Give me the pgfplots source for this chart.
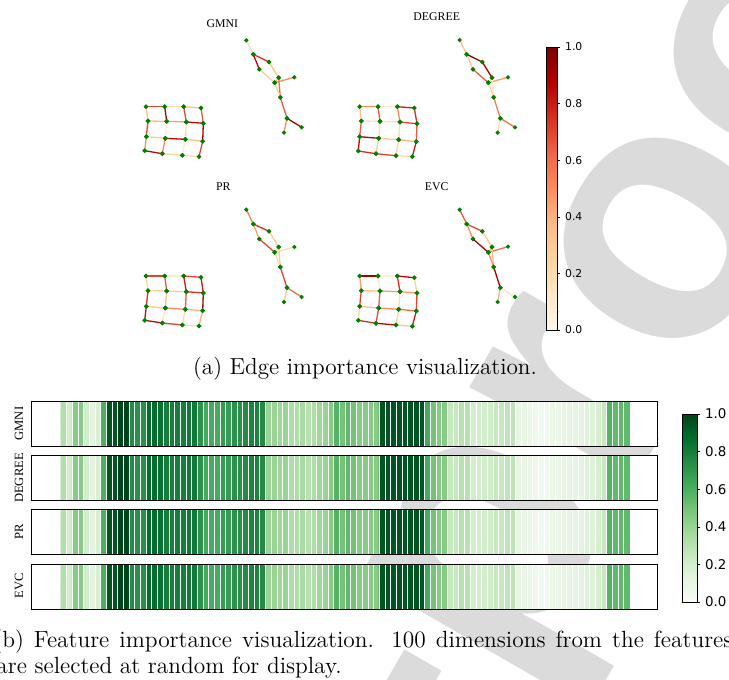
\documentclass[border=0pt]{standalone}
\usepackage{pgfplots}
\pgfplotsset{compat=1.18}
\usepackage{pgfplotstable}
\usepackage{fontspec}
\newfontfamily\dejavu{DejaVu Sans}
\newfontfamily\libserif{Liberation Serif}
\newfontfamily\wmfont{Liberation Sans}

\pgfplotsset{
  colormap={orrd}{rgb255=(255,247,236) rgb255=(254,232,200) rgb255=(253,212,158) rgb255=(253,187,132) rgb255=(252,141,89) rgb255=(239,101,72) rgb255=(215,48,31) rgb255=(179,0,0) rgb255=(127,0,0)},
  colormap={greens}{rgb255=(247,252,245) rgb255=(229,245,224) rgb255=(199,233,192) rgb255=(161,217,155) rgb255=(116,196,118) rgb255=(65,171,93) rgb255=(35,139,69) rgb255=(0,109,44) rgb255=(0,68,27)},
  heat/.style={scale only axis, width=312.5pt, height=22.5pt, anchor=north west,
    xmin=-5.6, xmax=104.35, ymin=-0.5, ymax=1.5,
    colormap name=greens, point meta min=0, point meta max=1,
    axis background/.style={fill=white},
    axis on top, xtick={0.5,1.5,...,98.5}, xticklabels={}, major tick length=0pt,
    ytick=\empty, xmajorgrids, major grid style={white, line width=0.45pt},
    axis line style={line width=0.5pt}},
}

% edges: x1 y1 x2 y2 importance (pixel coordinates of the figure)
\pgfplotstableread{
x1 y1 x2 y2 c
146.0 106.7 164.7 106.7 .70
164.7 106.7 183.7 106.7 .20
183.7 106.7 201.0 108.0 .35
148.0 121.0 166.7 121.3 .35
166.7 121.3 186.3 122.0 .45
186.3 122.0 203.3 123.3 .85
146.3 136.7 165.3 138.3 .30
165.3 138.3 185.3 139.3 .85
185.3 139.3 202.7 141.3 .35
144.7 150.7 162.3 153.7 .85
162.3 153.7 182.3 155.3 .25
182.3 155.3 199.0 156.7 .20
146.0 106.7 148.0 121.0 .35
148.0 121.0 146.3 136.7 .70
146.3 136.7 144.7 150.7 .50
164.7 106.7 166.7 121.3 .90
166.7 121.3 165.3 138.3 .10
165.3 138.3 162.3 153.7 .50
183.7 106.7 186.3 122.0 .70
186.3 122.0 185.3 139.3 .20
185.3 139.3 182.3 155.3 .10
201.0 108.0 203.3 123.3 .65
203.3 123.3 202.7 141.3 .90
202.7 141.3 199.0 156.7 .70
246.3 40.3 253.3 54.3 .20
253.3 54.3 269.0 62.0 .75
253.3 54.3 259.3 69.3 .85
269.0 62.0 278.7 77.7 .35
259.3 69.3 274.7 82.7 .30
278.7 77.7 274.7 82.7 .30
274.7 82.7 294.3 77.3 .50
278.7 77.7 280.3 97.3 .60
274.7 82.7 280.3 97.3 .25
280.3 97.3 287.0 118.3 .65
287.0 118.3 301.7 127.3 .90
287.0 118.3 284.0 132.7 .50
359.7 106.7 378.0 106.7 .50
378.0 106.7 397.3 106.7 .10
397.3 106.7 414.3 108.0 .80
361.3 121.0 380.0 121.3 .15
380.0 121.3 400.0 122.0 .20
400.0 122.0 417.0 123.7 .70
359.7 136.7 378.7 138.3 .90
378.7 138.3 398.7 139.7 .30
398.7 139.7 416.3 141.7 .40
358.3 151.0 376.0 153.7 .75
376.0 153.7 396.0 155.7 .70
396.0 155.7 412.3 156.7 .20
359.7 106.7 361.3 121.0 .35
361.3 121.0 359.7 136.7 .65
359.7 136.7 358.3 151.0 .85
378.0 106.7 380.0 121.3 .65
380.0 121.3 378.7 138.3 .20
378.7 138.3 376.0 153.7 .30
397.3 106.7 400.0 122.0 .50
400.0 122.0 398.7 139.7 .20
398.7 139.7 396.0 155.7 .25
414.3 108.0 417.0 123.7 .75
417.0 123.7 416.3 141.7 .65
416.3 141.7 412.3 156.7 .80
459.7 40.0 466.7 54.3 .35
466.7 54.3 482.3 62.0 .95
466.7 54.3 473.0 69.3 .30
482.3 62.0 492.0 77.7 .90
473.0 69.3 488.3 82.7 .65
492.0 77.7 488.3 82.7 .20
488.3 82.7 508.0 77.3 .45
492.0 77.7 493.7 97.3 .15
488.3 82.7 493.7 97.3 .25
493.7 97.3 500.3 118.3 .55
500.3 118.3 515.0 127.3 .60
500.3 118.3 497.7 132.7 .20
146.0 276.0 164.7 276.0 .70
164.7 276.0 183.7 276.0 .10
183.7 276.0 201.0 277.3 .70
148.0 290.7 166.7 291.0 .25
166.7 291.0 186.3 291.7 .30
186.3 291.7 203.3 293.0 .75
146.3 306.3 165.3 308.0 .30
165.3 308.0 185.3 309.3 .50
185.3 309.3 202.7 310.7 .40
144.7 320.3 162.3 323.0 .85
162.3 323.0 182.3 325.0 .70
182.3 325.0 199.0 326.0 .20
146.0 276.0 148.0 290.7 .25
148.0 290.7 146.3 306.3 .75
146.3 306.3 144.7 320.3 .85
164.7 276.0 166.7 291.0 .65
166.7 291.0 165.3 308.0 .35
165.3 308.0 162.3 323.0 .15
183.7 276.0 186.3 291.7 .80
186.3 291.7 185.3 309.3 .65
185.3 309.3 182.3 325.0 .20
201.0 277.3 203.3 293.0 .80
203.3 293.0 202.7 310.7 .90
202.7 310.7 199.0 326.0 .40
246.3 209.7 253.3 224.0 .55
253.3 224.0 269.0 231.3 .75
253.3 224.0 259.3 239.0 .45
269.0 231.3 278.7 247.0 .30
259.3 239.0 274.7 252.3 .70
278.7 247.0 274.7 252.3 .25
274.7 252.3 294.3 247.0 .20
278.7 247.0 280.3 267.0 .30
274.7 252.3 280.3 267.0 .20
280.3 267.0 287.0 287.7 .70
287.0 287.7 301.7 297.0 .60
287.0 287.7 284.0 302.0 .30
359.7 276.0 378.0 276.0 .90
378.0 276.0 397.3 276.0 .05
397.3 276.0 414.3 277.7 .85
361.3 290.7 380.0 291.0 .35
380.0 291.0 400.0 291.7 .45
400.0 291.7 417.0 293.0 .45
359.7 306.3 378.7 308.0 .35
378.7 308.0 398.7 309.3 .50
398.7 309.3 416.3 311.0 .60
358.3 320.3 376.0 323.3 .75
376.0 323.3 396.0 325.0 .85
396.0 325.0 412.3 326.3 .30
359.7 276.0 361.3 290.7 .45
361.3 290.7 359.7 306.3 .70
359.7 306.3 358.3 320.3 .25
378.0 276.0 380.0 291.0 .10
380.0 291.0 378.7 308.0 .65
378.7 308.0 376.0 323.3 .70
397.3 276.0 400.0 291.7 .75
400.0 291.7 398.7 309.3 .20
398.7 309.3 396.0 325.0 .25
414.3 277.7 417.0 293.0 .25
417.0 293.0 416.3 311.0 .70
416.3 311.0 412.3 326.3 .80
459.7 209.7 466.7 224.0 .65
466.7 224.0 482.3 231.3 .70
466.7 224.0 473.0 239.0 .50
482.3 231.3 492.0 247.0 .30
473.0 239.0 488.3 252.3 .90
492.0 247.0 488.3 252.3 .40
488.3 252.3 508.0 246.7 .60
492.0 247.0 493.7 267.0 .35
488.3 252.3 493.7 267.0 .50
493.7 267.0 500.3 287.7 .90
500.3 287.7 515.0 297.0 .15
500.3 287.7 497.7 302.0 .40
}\edges

% feature importance: 100 dimensions, duplicated on two rows for the matrix plot
\pgfplotstableread[row sep=\\]{
x y c\\
0 0 .32\\ 1 0 .20\\ 2 0 .45\\ 3 0 .45\\ 4 0 .20\\ 5 0 .12\\ 6 0 .18\\ 7 0 .60\\ 8 0 .95\\ 9 0 .95\\
10 0 1\\ 11 0 1\\ 12 0 .75\\ 13 0 .72\\ 14 0 .72\\ 15 0 .87\\ 16 0 .87\\ 17 0 .85\\ 18 0 .80\\ 19 0 .80\\
20 0 .80\\ 21 0 .80\\ 22 0 .82\\ 23 0 .82\\ 24 0 .72\\ 25 0 .62\\ 26 0 .62\\ 27 0 .62\\ 28 0 .68\\ 29 0 .68\\
30 0 .72\\ 31 0 .72\\ 32 0 .75\\ 33 0 .78\\ 34 0 .78\\ 35 0 .75\\ 36 0 .40\\ 37 0 .40\\ 38 0 .38\\ 39 0 .40\\
40 0 .33\\ 41 0 .33\\ 42 0 .35\\ 43 0 .30\\ 44 0 .33\\ 45 0 .38\\ 46 0 .40\\ 47 0 .45\\ 48 0 .58\\ 49 0 .50\\
50 0 .55\\ 51 0 .50\\ 52 0 .45\\ 53 0 .45\\ 54 0 .45\\ 55 0 .45\\ 56 0 .95\\ 57 0 .95\\ 58 0 .95\\ 59 0 .95\\
60 0 .95\\ 61 0 .95\\ 62 0 .95\\ 63 0 .95\\ 64 0 .62\\ 65 0 .50\\ 66 0 .45\\ 67 0 .45\\ 68 0 .25\\ 69 0 .25\\
70 0 .30\\ 71 0 .30\\ 72 0 .20\\ 73 0 .20\\ 74 0 .20\\ 75 0 .20\\ 76 0 .25\\ 77 0 .25\\ 78 0 .28\\ 79 0 .28\\
80 0 .10\\ 81 0 .10\\ 82 0 .08\\ 83 0 .06\\ 84 0 .05\\ 85 0 .06\\ 86 0 .08\\ 87 0 .08\\ 88 0 .12\\ 89 0 .12\\
90 0 .12\\ 91 0 .12\\ 92 0 .15\\ 93 0 .15\\ 94 0 .18\\ 95 0 .25\\ 96 0 .58\\ 97 0 .55\\ 98 0 .55\\ 99 0 .55\\
0 1 .32\\ 1 1 .20\\ 2 1 .45\\ 3 1 .45\\ 4 1 .20\\ 5 1 .12\\ 6 1 .18\\ 7 1 .60\\ 8 1 .95\\ 9 1 .95\\
10 1 1\\ 11 1 1\\ 12 1 .75\\ 13 1 .72\\ 14 1 .72\\ 15 1 .87\\ 16 1 .87\\ 17 1 .85\\ 18 1 .80\\ 19 1 .80\\
20 1 .80\\ 21 1 .80\\ 22 1 .82\\ 23 1 .82\\ 24 1 .72\\ 25 1 .62\\ 26 1 .62\\ 27 1 .62\\ 28 1 .68\\ 29 1 .68\\
30 1 .72\\ 31 1 .72\\ 32 1 .75\\ 33 1 .78\\ 34 1 .78\\ 35 1 .75\\ 36 1 .40\\ 37 1 .40\\ 38 1 .38\\ 39 1 .40\\
40 1 .33\\ 41 1 .33\\ 42 1 .35\\ 43 1 .30\\ 44 1 .33\\ 45 1 .38\\ 46 1 .40\\ 47 1 .45\\ 48 1 .58\\ 49 1 .50\\
50 1 .55\\ 51 1 .50\\ 52 1 .45\\ 53 1 .45\\ 54 1 .45\\ 55 1 .45\\ 56 1 .95\\ 57 1 .95\\ 58 1 .95\\ 59 1 .95\\
60 1 .95\\ 61 1 .95\\ 62 1 .95\\ 63 1 .95\\ 64 1 .62\\ 65 1 .50\\ 66 1 .45\\ 67 1 .45\\ 68 1 .25\\ 69 1 .25\\
70 1 .30\\ 71 1 .30\\ 72 1 .20\\ 73 1 .20\\ 74 1 .20\\ 75 1 .20\\ 76 1 .25\\ 77 1 .25\\ 78 1 .28\\ 79 1 .28\\
80 1 .10\\ 81 1 .10\\ 82 1 .08\\ 83 1 .06\\ 84 1 .05\\ 85 1 .06\\ 86 1 .08\\ 87 1 .08\\ 88 1 .12\\ 89 1 .12\\
90 1 .12\\ 91 1 .12\\ 92 1 .15\\ 93 1 .15\\ 94 1 .18\\ 95 1 .25\\ 96 1 .58\\ 97 1 .55\\ 98 1 .55\\ 99 1 .55\\
}\heat

\begin{document}
\begin{tikzpicture}[x=0.5pt,y=-0.5pt]
\path[use as bounding box] (0,0) rectangle (729,680);
\clip (0,0) rectangle (729,680);

% watermark
\node[rotate=60, anchor=base west, inner sep=0, text=black!14, font=\wmfont\bfseries\fontsize{180}{180}\selectfont] at (512,694) {proof};
\node[rotate=60, anchor=base east, inner sep=0, text=black!14, font=\wmfont\bfseries\fontsize{180}{180}\selectfont] at (512,694) {Journal Pre-};

% (a) graphs
\begin{axis}[at={(0pt,0pt)}, anchor=north west, scale only axis, width=364.5pt, height=340pt,
  xmin=0, xmax=729, ymin=0, ymax=680, y dir=reverse, hide axis, clip=false,
  colormap name=orrd, point meta min=0, point meta max=1,
  colorbar,
  colorbar style={at={(parent axis.north west)}, anchor=north west, xshift=264.5pt, yshift=-23.5pt,
    scale only axis, width=5.5pt, height=141.5pt,
    ytick={0,0.2,0.4,0.6,0.8,1.0}, ytick pos=right, tick align=outside, major tick length=1.5pt,
    tick style={black, line width=0.3pt}, axis line style={line width=0.4pt},
    yticklabel style={font=\dejavu\fontsize{5.4}{6}\selectfont, xshift=-1pt,
      /pgf/number format/.cd, fixed, fixed zerofill, precision=1, assume math mode=true}}]
\addplot[point meta=explicit, line width=0.65pt,
  quiver={u=\thisrow{x2}-\thisrow{x1}, v=\thisrow{y2}-\thisrow{y1}, colored}]
  table[x=x1, y=y1, meta=c] {\edges};
\addplot[only marks, mark=*, mark size=0.85pt, color=green!50!black] table[x=x1, y=y1] {\edges};
\addplot[only marks, mark=*, mark size=0.85pt, color=green!50!black] table[x=x2, y=y2] {\edges};
\end{axis}

\begin{scope}[font=\libserif\fontsize{5.9}{7}\selectfont]
\node at (222.3,23.3) {GMNI};
\node at (436.7,16.7) {DEGREE};
\node at (223.3,186.7) {PR};
\node at (436.7,186.7) {EVC};
\end{scope}

\node[anchor=base, font=\fontsize{11.6}{14}\selectfont] at (365,374) {(a) Edge importance visualization.};

% (b) heatmaps
\begin{axis}[heat, at={(16pt,-200.5pt)},
  colorbar,
  colorbar style={at={(parent axis.north east)}, anchor=north west, xshift=4pt, yshift=-6.5pt,
    scale only axis, width=7.5pt, height=94pt,
    ytick={0,0.2,0.4,0.6,0.8,1.0}, ytick pos=right, tick align=outside, major tick length=1.5pt,
    tick style={black, line width=0.3pt}, axis line style={line width=0.4pt},
    yticklabel style={font=\dejavu\fontsize{6.7}{7}\selectfont, xshift=-1pt,
      /pgf/number format/.cd, fixed, fixed zerofill, precision=1, assume math mode=true}}]
\addplot[matrix plot*, mesh/cols=100, mesh/rows=2, point meta=explicit] table[meta=c] {\heat};
\end{axis}
\begin{axis}[heat, at={(16pt,-227.75pt)}]
\addplot[matrix plot*, mesh/cols=100, mesh/rows=2, point meta=explicit] table[meta=c] {\heat};
\end{axis}
\begin{axis}[heat, at={(16pt,-254.75pt)}]
\addplot[matrix plot*, mesh/cols=100, mesh/rows=2, point meta=explicit] table[meta=c] {\heat};
\end{axis}
\begin{axis}[heat, at={(16pt,-282pt)}]
\addplot[matrix plot*, mesh/cols=100, mesh/rows=2, point meta=explicit] table[meta=c] {\heat};
\end{axis}

\begin{scope}[font=\libserif\fontsize{6.3}{7}\selectfont]
\node[rotate=90] at (19,423.5) {GMNI};
\node[rotate=90] at (19,478) {DEGREE};
\node[rotate=90] at (19,532) {PR};
\node[rotate=90] at (19,586) {EVC};
\end{scope}

\begin{scope}[font=\fontsize{11.7}{14}\selectfont]
\node[anchor=base west, inner sep=0] at (-7,647) {\makebox[369.5pt][s]{(b) Feature importance visualization. 100 dimensions from the features}};
\node[anchor=base west, inner sep=0] at (-4,673) {are selected at random for display.};
\end{scope}
\end{tikzpicture}
\end{document}
